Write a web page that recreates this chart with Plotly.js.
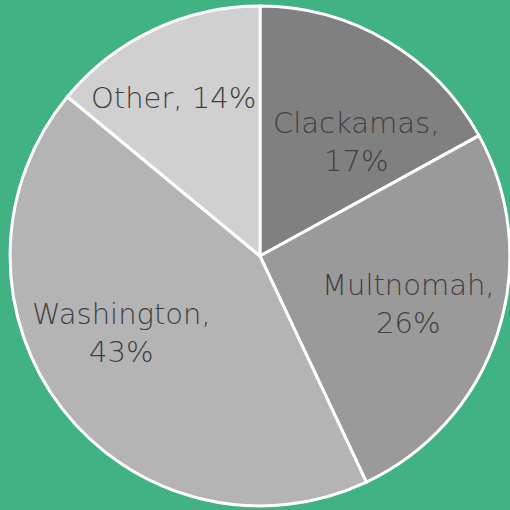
<!DOCTYPE html>
<html><head><meta charset="utf-8">
<script src="https://cdn.plot.ly/plotly-3.0.1.min.js"></script>
<style>html,body{margin:0;padding:0;background:#41b283;}</style>
</head><body><div id="chart" style="width:510px;height:510px;"></div>
<script>
const categories = ["Clackamas", "Multnomah", "Washington", "Other"];
const shares = [17, 26, 43, 14];
const sliceColors = ["#808080", "#9a9a9a", "#b4b4b4", "#d0d0d0"];
const labelSeparators = ["<br>", "<br>", "<br>", " "];

// label anchor points (paper coordinates), layout only
const labelX = [0.698, 0.800, 0.239, 0.341];
const labelY = [0.722, 0.404, 0.347, 0.808];

const data = [{
  type: "pie",
  labels: categories,
  values: shares,
  sort: false,
  direction: "clockwise",
  rotation: 0,
  marker: {colors: sliceColors, line: {color: "#ffffff", width: 3}},
  textinfo: "none",
  hoverinfo: "none",
  domain: {x: [0.0196, 1.0], y: [0.008, 0.988]}
}];
const annotations = categories.map((c, i) => ({
  xref: "paper", yref: "paper",
  x: labelX[i], y: labelY[i],
  xanchor: "center", yanchor: "middle",
  showarrow: false,
  align: "center",
  text: c + "," + labelSeparators[i] + shares[i] + "%",
  font: {family: "'DejaVu Sans', sans-serif", size: 29, color: "#404040", weight: 200}
}));
const layout = {
  width: 510, height: 510,
  margin: {l: 0, r: 0, t: 0, b: 0},
  paper_bgcolor: "#41b283",
  plot_bgcolor: "#41b283",
  showlegend: false,
  annotations: annotations
};
Plotly.newPlot("chart", data, layout, {displayModeBar: false, staticPlot: true});
</script></body></html>
